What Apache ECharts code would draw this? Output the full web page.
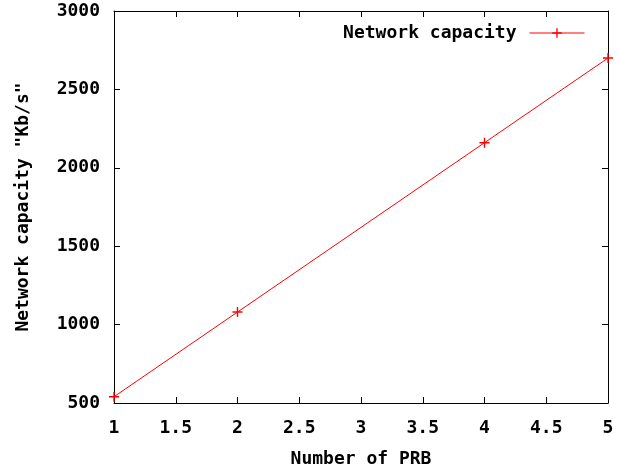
<!DOCTYPE html>
<html>
<head>
<meta charset="utf-8">
<script src="https://cdn.jsdelivr.net/npm/echarts@6/dist/echarts.min.js"></script>
<style>html,body{margin:0;padding:0;background:#fff}#c{width:619px;height:473px}</style>
</head>
<body>
<div id="c"></div>
<script>
const seriesName = 'Network capacity';
const prb = [1, 2, 4, 5];
const capacity = [540, 1080, 2160, 2700];
const xTitle = 'Number of PRB';
const yTitle = 'Network capacity "Kb/s"';

const FONT = 'DejaVu Sans Mono';
const plus = 'path://M4.3,0H5.7V4.3H10V5.7H5.7V10H4.3V5.7H0V4.3H4.3Z';
const chart = echarts.init(document.getElementById('c'), null, {renderer: 'canvas'});
const lbl = {color: '#000', fontFamily: FONT, fontWeight: 'bold', fontSize: 18};
const axLine = {show: true, lineStyle: {color: '#000', width: 1}};
const tick = {show: true, inside: true, length: 6, lineStyle: {color: '#000', width: 1}};
chart.setOption({
  animation: false,
  backgroundColor: '#fff',
  grid: {left: 114, right: 11, top: 11, bottom: 69, show: false},
  legend: {
    data: [{name: seriesName, itemStyle: {color: '#ff0000'}, lineStyle: {width: 1, color: '#ff0000'}}],
    top: 19, right: 29, align: 'right',
    itemWidth: 55, itemHeight: 12,
    textStyle: Object.assign({padding: [0, 8, 0, 0]}, lbl)
  },
  xAxis: [{
    type: 'value', min: 1, max: 5, interval: 0.5, position: 'bottom',
    axisLine: axLine, axisTick: tick, splitLine: {show: false},
    axisLabel: Object.assign({margin: 16, formatter: v => String(v)}, lbl),
    name: xTitle, nameLocation: 'middle', nameGap: 47, nameTextStyle: lbl
  }, {
    type: 'value', min: 1, max: 5, interval: 0.5, position: 'top',
    axisLine: axLine, axisTick: tick, splitLine: {show: false}, axisLabel: {show: false}
  }],
  yAxis: [{
    type: 'value', min: 500, max: 3000, interval: 500, position: 'left',
    axisLine: axLine, axisTick: tick, splitLine: {show: false},
    axisLabel: Object.assign({margin: 14, formatter: v => String(v)}, lbl),
    name: yTitle, nameLocation: 'middle', nameGap: 82, nameTextStyle: lbl
  }, {
    type: 'value', min: 500, max: 3000, interval: 500, position: 'right',
    axisLine: axLine, axisTick: tick, splitLine: {show: false}, axisLabel: {show: false}
  }],
  series: [{
    name: seriesName, type: 'line',
    data: prb.map((x, i) => [x, capacity[i]]),
    symbol: plus, symbolSize: 10, showSymbol: true,
    lineStyle: {color: '#ff0000', width: 1},
    itemStyle: {color: '#ff0000'}
  }]
});
</script>
</body>
</html>
